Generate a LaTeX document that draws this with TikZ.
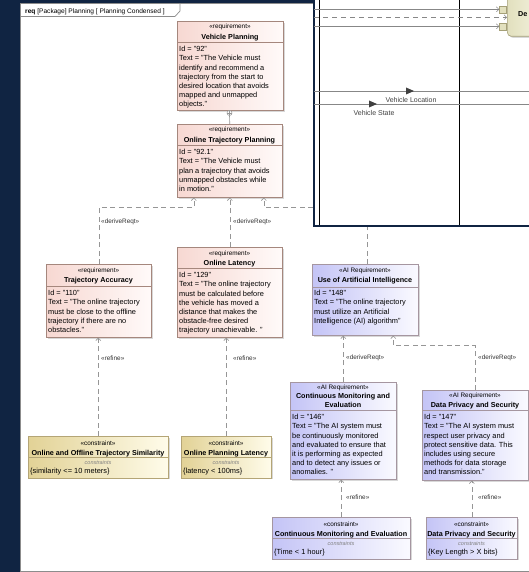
\documentclass[tikz,border=0pt]{standalone}
\usepackage{fontspec}
\setmainfont{Liberation Sans}
\usetikzlibrary{arrows.meta,shadows}

\definecolor{navy}{RGB}{16,36,66}
\definecolor{frameline}{RGB}{140,140,140}
\definecolor{reqA}{RGB}{247,216,210}
\definecolor{reqB}{RGB}{255,250,249}
\definecolor{reqline}{RGB}{165,135,125}
\definecolor{aiA}{RGB}{196,196,246}
\definecolor{aiB}{RGB}{250,250,255}
\definecolor{ailine}{RGB}{165,150,160}
\definecolor{conA}{RGB}{226,210,150}
\definecolor{conB}{RGB}{255,252,234}
\definecolor{conline}{RGB}{180,165,118}
\definecolor{linkgray}{RGB}{150,150,150}
\definecolor{flowgray}{RGB}{135,135,135}
\definecolor{blockA}{RGB}{226,224,190}
\definecolor{blockB}{RGB}{246,245,228}
\definecolor{blockline}{RGB}{165,160,120}

\newcommand\dgBody{\fontsize{7.4}{9.1}\selectfont}
\newcommand\dgStereo{\fontsize{6.4}{7}\selectfont}
\newcommand\dgTitle{\fontsize{7.2}{8.4}\selectfont\bfseries}
\newcommand\dgLabel{\fontsize{6.4}{7}\selectfont}
\newcommand\dgTiny{\fontsize{5.5}{6}\selectfont\itshape}
\newcommand\dgHead{\fontsize{6.6}{7.5}\selectfont}
\newcommand\dgFlow{\fontsize{7}{8}\selectfont}

% box node + compartment line: style, line colour, name, x1, y1, x2, y2, separator y
\newcommand\dgbox[8]{%
  \node[#1, minimum width={#6-#4}, minimum height={#7-#5}] (#3) at (#4,#5) {};
  \draw[#2, line width=0.6pt] (#4,#8) -- (#6,#8);}

\begin{document}
\begin{tikzpicture}[x=1pt,y=-1pt,
  box/.style={draw, line width=0.6pt, inner sep=0, anchor=north west,
    drop shadow={shadow xshift=1.6pt, shadow yshift=-1.6pt, opacity=0.3}},
  reqbox/.style={box, draw=reqline, left color=reqA, right color=reqB},
  aibox/.style={box, draw=ailine, left color=aiA, right color=aiB},
  conbox/.style={box, draw=conline, left color=conA, right color=conB},
  stereo/.style={anchor=base, inner sep=0, font=\dgStereo},
  ttl/.style={anchor=base, inner sep=0, font=\dgTitle},
  body/.style={anchor=north west, inner sep=0, align=left, font=\dgBody},
  cval/.style={anchor=base west, inner sep=0, font=\dgBody},
  ctag/.style={anchor=base, inner sep=0, font=\dgTiny, text=gray},
  elabel/.style={anchor=west, inner sep=0, font=\dgLabel, text=black!80},
  trace/.style={draw=linkgray, line width=0.6pt, dash pattern=on 5pt off 3.5pt,
    -{Straight Barb[length=2.6pt,width=5pt]}},
  link/.style={draw=linkgray, line width=0.6pt},
  flow/.style={draw=flowgray, line width=0.5pt},
  flowtip/.style={flow, -{Straight Barb[length=2.6pt,width=5pt]}},
  port/.style={draw=blockline, fill=blockA, minimum width=7pt, minimum height=7pt, inner sep=0},
  ]
\useasboundingbox (0,0) rectangle (529,572);
\fill[navy] (0,0) rectangle (529,572);

% diagram frame with its name tab
\draw[frameline, fill=white, line width=0.7pt] (20.5,3.5) rectangle (545,571.2);
\draw[frameline, line width=0.7pt] (20.5,16.5) -- (175,16.5) -- (180,11) -- (180,3.5);
\node[anchor=base west, inner sep=0, font=\dgHead] (frametitle) at (25,13.2)
  {\textbf{req} [Package] Planning [ Planning Condensed ]};

% ---------------- requirements ----------------
\dgbox{reqbox}{reqline}{vp}{177}{21}{283}{110}{42}
\node[stereo] (vp-s) at (230,29) {«requirement»};
\node[ttl] (vp-t) at (230,39.3) {Vehicle Planning};
\node[body] (vp-b) at (179,46.3) {Id = "92"\\Text = "The Vehicle must\\identify and recommend a\\trajectory from the start to\\desired location that avoids\\mapped and unmapped\\objects."};

\dgbox{reqbox}{reqline}{otp}{177}{124}{282}{197}{145}
\node[stereo] (otp-s) at (229.5,132) {«requirement»};
\node[ttl] (otp-t) at (229.5,142.3) {Online Trajectory Planning};
\node[body] (otp-b) at (179,149.3) {Id = "92.1"\\Text = "The Vehicle must\\plan a trajectory that avoids\\unmapped obstacles while\\in motion."};

\dgbox{reqbox}{reqline}{ta}{46}{264}{151}{337}{286.5}
\node[stereo] (ta-s) at (98.5,272.5) {«requirement»};
\node[ttl] (ta-t) at (98.5,282.8) {Trajectory Accuracy};
\node[body] (ta-b) at (48,290.3) {Id = "110"\\Text = "The online trajectory\\must be close to the offline\\trajectory if there are no\\obstacles."};

\dgbox{reqbox}{reqline}{ol}{177}{247}{282}{337}{268.5}
\node[stereo] (ol-s) at (229.5,255) {«requirement»};
\node[ttl] (ol-t) at (229.5,265.3) {Online Latency};
\node[body] (ol-b) at (179,272.3) {Id = "129"\\Text = "The online trajectory\\must be calculated before\\the vehicle has moved a\\distance that makes the\\obstacle-free desired\\trajectory unachievable. "};

% ---------------- AI requirements ----------------
\dgbox{aibox}{ailine}{ai}{312}{264}{418}{335}{287}
\node[stereo] (ai-s) at (365,272.5) {«AI Requirement»};
\node[ttl] (ai-t) at (365,282.8) {Use of Artificial Intelligence};
\node[body] (ai-b) at (314,290.3) {Id = "148"\\Text = "The online trajectory\\must utilize an Artificial\\Intelligence (AI) algorithm"};

\dgbox{aibox}{ailine}{cm}{290}{382}{396}{479}{410}
\node[stereo] (cm-s) at (343,389.5) {«AI Requirement»};
\node[ttl] (cm-t) at (343,398.5) {Continuous Monitoring and};
\node[ttl] (cm-t2) at (343,407) {Evaluation};
\node[body] (cm-b) at (292,414.3) {Id = "146"\\Text = "The AI system must\\be continuously monitored\\and evaluated to ensure that\\it is performing as expected\\and to detect any issues or\\anomalies. "};

\dgbox{aibox}{ailine}{dp}{422}{390}{528}{480}{410}
\node[stereo] (dp-s) at (475,397.5) {«AI Requirement»};
\node[ttl] (dp-t) at (475,407) {Data Privacy and Security};
\node[body] (dp-b) at (424,414.3) {Id = "147"\\Text = "The AI system must\\respect user privacy and\\protect sensitive data. This\\includes using secure\\methods for data storage\\and transmission."};

% ---------------- constraints ----------------
\dgbox{conbox}{conline}{c1}{28}{436}{168}{477.5}{457.5}
\node[stereo] (c1-s) at (98,445) {«constraint»};
\node[ttl] (c1-t) at (98,455) {Online and Offline Trajectory Similarity};
\node[ctag] (c1-g) at (98,464.5) {constraints};
\node[cval] (c1-v) at (30,473) {\{similarity <= 10 meters\}};

\dgbox{conbox}{conline}{c2}{181}{436}{271}{477.5}{457.5}
\node[stereo] (c2-s) at (226,445) {«constraint»};
\node[ttl] (c2-t) at (226,455) {Online Planning Latency};
\node[ctag] (c2-g) at (226,464.5) {constraints};
\node[cval] (c2-v) at (183,473) {\{latency < 100ms\}};

\dgbox{aibox}{ailine}{c3}{272}{517}{410}{558.5}{538.5}
\node[stereo] (c3-s) at (341,526) {«constraint»};
\node[ttl] (c3-t) at (341,536) {Continuous Monitoring and Evaluation};
\node[ctag] (c3-g) at (341,545.5) {constraints};
\node[cval] (c3-v) at (274,554) {\{Time < 1 hour\}};

\dgbox{aibox}{ailine}{c4}{426}{517}{517}{558.5}{538.5}
\node[stereo] (c4-s) at (471.5,526) {«constraint»};
\node[ttl] (c4-t) at (471.5,536) {Data Privacy and Security};
\node[ctag] (c4-g) at (471.5,545.5) {constraints};
\node[cval] (c4-v) at (428,554) {\{Key Length > X bits\}};

% ---------------- relationships ----------------
\node[circle, draw=linkgray, fill=white, line width=0.5pt, minimum size=5pt, inner sep=0,
  path picture={\draw[linkgray, line width=0.5pt]
    (path picture bounding box.north) -- (path picture bounding box.south)
    (path picture bounding box.west) -- (path picture bounding box.east);}]
  (own) at (229.5,113) {};
\draw[link] (otp.north) -- (own.south);

\draw[trace] (ta.north) |- ([xshift=-36pt,yshift=-10pt]otp.south) -- ([xshift=-36pt]otp.south);
\draw[trace] (ol.north) -- (otp.south);
\draw[trace] ([xshift=2pt]ai.north) |- ([xshift=34pt,yshift=-10pt]otp.south) -- ([xshift=34pt]otp.south);
\node[elabel] (d1) at (101,222) {«deriveReqt»};
\node[elabel] (d2) at (233,222) {«deriveReqt»};

\draw[trace] (cm.north) -- (cm.north |- ai.south);
\draw[trace] (dp.north) |- ([xshift=28pt,yshift=-10pt]ai.south) -- ([xshift=28pt]ai.south);
\node[elabel] (d3) at (346,358) {«deriveReqt»};
\node[elabel] (d4) at (478,358) {«deriveReqt»};

\draw[trace] (c1.north) -- (c1.north |- ta.south);
\draw[trace] (c2.north) -- (c2.north |- ol.south);
\draw[trace] (c3.north) -- (c3.north |- cm.south);
\draw[trace] (c4.north) -- (c4.north |- dp.south);
\node[elabel] (r1) at (101,358) {«refine»};
\node[elabel] (r2) at (233,358) {«refine»};
\node[elabel] (r3) at (346,497) {«refine»};
\node[elabel] (r4) at (478,497) {«refine»};

% ---------------- second window lying over the diagram ----------------
\fill[white] (313,0) rectangle (529,226);
\draw[black, line width=0.9pt] (319.5,0) -- (319.5,225);
\draw[black, line width=0.9pt] (459,0) -- (459,225);
\draw[navy, line width=2pt] (314,0) -- (314,226) -- (530,226);

\node[box, draw=blockline, left color=blockA, right color=blockB, rounded corners=4pt,
  minimum width=40pt, minimum height=42pt] (blk) at (507,-6) {};
\node[anchor=base west, inner sep=0, font=\dgTitle] (blk-t) at (518,17) {De};
\node[port] (pa) at (503,9.3) {};
\node[port] (pb) at (503,26.3) {};
\coordinate (wa) at (314,9.3);
\coordinate (wb) at (314,17.3);
\coordinate (wbe) at (507,17.3);
\coordinate (wc) at (314,26.3);
\draw[flowtip] (wa) -- (pa.west);
\draw[flowtip, dash pattern=on 5pt off 4pt] (wb) -- (wbe);
\draw[flowtip] (wc) -- (pb.west);

\coordinate (vl0) at (314,91);
\coordinate (vl1) at (529,91);
\coordinate (vs0) at (314,104);
\coordinate (vs1) at (529,104);
\draw[flow] (vl0) -- (vl1);
\draw[flow] (vs0) -- (vs1);
\fill[black!75] (406,87.5) -- (414,91) -- (406,94.5) -- cycle;
\fill[black!75] (369,100.5) -- (377,104) -- (369,107.5) -- cycle;
\node[anchor=base, inner sep=0, font=\dgFlow, text=black!75] (vl-l) at (411,102.5) {Vehicle Location};
\node[anchor=base, inner sep=0, font=\dgFlow, text=black!75] (vs-l) at (374,115.5) {Vehicle State};
\end{tikzpicture}
\end{document}
